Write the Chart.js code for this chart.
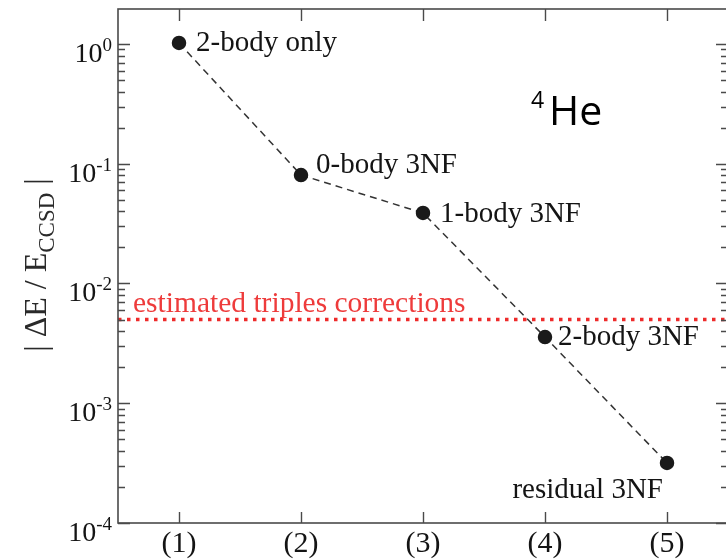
<!DOCTYPE html>
<html>
<head>
<meta charset="utf-8">
<script src="https://cdn.jsdelivr.net/npm/chart.js@4"></script>
<style>
  html, body { margin: 0; padding: 0; background: #fff; overflow: hidden; }
  canvas { display: block; }
</style>
</head>
<body>
<canvas id="c" width="730" height="560"></canvas>
<script>
// ---- data ----
const categories = ['(1)', '(2)', '(3)', '(4)', '(5)'];
const xPositions = [1, 2, 3, 4, 5];
const deltaE = [1.02, 0.0805, 0.0388, 0.00357, 0.000317];
const pointLabels = ['2-body only', '0-body 3NF', '1-body 3NF', '2-body 3NF', 'residual 3NF'];
const triplesEstimate = 0.005;
const triplesLabel = 'estimated triples corrections';
const yTickValues = [1, 0.1, 0.01, 0.001, 0.0001];
const yTickExponents = ['0', '-1', '-2', '-3', '-4'];
const nucleusMass = '4';
const nucleusName = 'He';

// ---- styles ----
const labelOffsets = [[17, 8, 'left'], [15, -2, 'left'], [17, 9, 'left'], [13, 8, 'left'], [-4, 35, 'right']];
const SERIF = '"Liberation Serif", "Times New Roman", serif';
const axisColor = '#4a4a4a';

const frame = {
  id: 'frame',
  afterDraw(chart) {
    const { ctx, chartArea: a, scales: { x, y } } = chart;
    ctx.save();
    ctx.strokeStyle = axisColor;
    ctx.lineWidth = 1.6;
    ctx.strokeRect(a.left, a.top, a.right - a.left, a.bottom - a.top);
    ctx.lineWidth = 1.4;
    xPositions.forEach(v => {
      const px = Math.round(x.getPixelForValue(v)) + 0.5;
      ctx.beginPath();
      ctx.moveTo(px, a.bottom); ctx.lineTo(px, a.bottom - 11);
      ctx.moveTo(px, a.top); ctx.lineTo(px, a.top + 12);
      ctx.stroke();
    });
    for (let e = -4; e <= 0; e++) {
      for (let m = 1; m <= 9; m++) {
        const v = m * Math.pow(10, e);
        if (v > y.max * 1.0001) continue;
        const py = Math.round(y.getPixelForValue(v)) + 0.5;
        const len = m === 1 ? 12 : 7;
        ctx.beginPath();
        ctx.moveTo(a.left, py); ctx.lineTo(a.left + len, py);
        ctx.moveTo(a.right, py); ctx.lineTo(a.right - len, py);
        ctx.stroke();
      }
    }
    ctx.fillStyle = '#141414';
    ctx.textBaseline = 'alphabetic';
    yTickValues.forEach((v, i) => {
      const py = y.getPixelForValue(v);
      ctx.font = '19px ' + SERIF;
      const supW = ctx.measureText(yTickExponents[i]).width;
      const rightX = 112;
      ctx.textAlign = 'right';
      ctx.fillText(yTickExponents[i], rightX, py + 7);
      ctx.font = '28px ' + SERIF;
      ctx.fillText('10', rightX - supW, py + 18);
    });
    ctx.font = '30px ' + SERIF;
    ctx.textAlign = 'center';
    categories.forEach((c, i) => {
      ctx.fillText(c, x.getPixelForValue(xPositions[i]), 552);
    });
    ctx.font = '29px ' + SERIF;
    pointLabels.forEach((t, i) => {
      const px = x.getPixelForValue(xPositions[i]);
      const py = y.getPixelForValue(deltaE[i]);
      const o = labelOffsets[i];
      ctx.textAlign = o[2];
      ctx.fillText(t, px + o[0], py + o[1]);
    });
    ctx.fillStyle = '#ee3b3b';
    ctx.textAlign = 'left';
    ctx.font = '29.5px ' + SERIF;
    ctx.fillText(triplesLabel, a.left + 15, y.getPixelForValue(triplesEstimate) - 8);
    ctx.fillStyle = '#000';
    ctx.font = '23px "Open Sans", "Noto Sans", sans-serif';
    ctx.fillText(nucleusMass, 531, 108);
    ctx.font = '41px "Open Sans", "Noto Sans", sans-serif';
    ctx.fillText(nucleusName, 549, 125);
    ctx.save();
    ctx.translate(46, 265);
    ctx.rotate(-Math.PI / 2);
    ctx.fillStyle = '#2a2a2a';
    const mainF = '32px ' + SERIF, subF = '23px ' + SERIF;
    const parts = [['| ΔE / E', mainF, 0], ['CCSD', subF, 8], [' |', mainF, 0]];
    let total = 0;
    parts.forEach(p => { ctx.font = p[1]; total += ctx.measureText(p[0]).width; });
    let cx = -total / 2;
    ctx.textAlign = 'left';
    parts.forEach(p => {
      ctx.font = p[1];
      ctx.fillText(p[0], cx, p[2]);
      cx += ctx.measureText(p[0]).width;
    });
    ctx.restore();
    ctx.restore();
  }
};

new Chart(document.getElementById('c'), {
  type: 'scatter',
  data: {
    datasets: [
      {
        label: 'triples',
        data: [{ x: 0.5, y: triplesEstimate }, { x: 5.5, y: triplesEstimate }],
        showLine: true,
        borderColor: '#ee2b2b',
        borderWidth: 3.5,
        borderDash: [3.5, 5.5],
        pointRadius: 0,
        order: 2
      },
      {
        label: '|ΔE/E_CCSD|',
        data: xPositions.map((xv, i) => ({ x: xv, y: deltaE[i] })),
        showLine: true,
        borderColor: '#333',
        borderWidth: 1.5,
        borderDash: [7, 5],
        pointRadius: 6.5,
        pointBackgroundColor: '#1a1a1a',
        pointBorderColor: '#1a1a1a',
        order: 1
      }
    ]
  },
  options: {
    responsive: false,
    animation: false,
    layout: { autoPadding: false, padding: { left: 118, top: 9, right: 2, bottom: 37 } },
    plugins: { legend: { display: false }, tooltip: { enabled: false } },
    scales: {
      x: { type: 'linear', min: 0.5, max: 5.5, display: false },
      y: { type: 'logarithmic', min: 0.0001, max: 1.96, display: false }
    }
  },
  plugins: [frame]
});
</script>
</body>
</html>
